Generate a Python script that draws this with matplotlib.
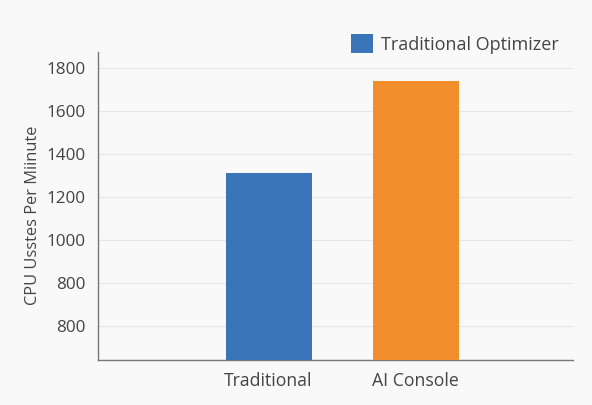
import matplotlib
matplotlib.use("Agg")
import matplotlib.pyplot as plt
from matplotlib.patches import Patch

categories = ["Traditional", "AI Console"]
values = [1312, 1740]
bar_colors = ["#3a74b9", "#f28d2b"]
ytick_values = [600, 800, 1000, 1200, 1400, 1600, 1800]
ytick_labels = ["800", "800", "1000", "1200", "1400", "1600", "1800"]
legend_label = "Traditional Optimizer"
ylabel = "CPU Usstes Per Miinute"

plt.rcParams['font.family'] = ['Open Sans', 'DejaVu Sans']

fig = plt.figure(figsize=(5.92, 4.05), dpi=100, facecolor="#f9f9f9")
ax = fig.add_axes([98/592, 1-360/405, (573-98)/592, (360-52)/405])
ax.set_facecolor("#f9f9f9")

x = list(range(len(categories)))
ax.bar(x, values, width=0.585, color=bar_colors, zorder=3)
ax.set_xlim(-1.16, 2.07)
ax.set_ylim(442, 1874)
ax.set_yticks(ytick_values)
ax.set_yticklabels(ytick_labels)
ax.set_xticks(x)
ax.set_xticklabels(categories)
ax.grid(axis='y', color="#e6e6e6", linewidth=0.8, zorder=0)
for s in ["top", "right"]:
    ax.spines[s].set_visible(False)
for s in ["left", "bottom"]:
    ax.spines[s].set_color("#777777")
    ax.spines[s].set_linewidth(1.0)
ax.tick_params(axis='both', length=0, labelsize=12.3, colors="#444444", pad=9)
ax.tick_params(axis='x', labelsize=12.7, pad=9)
ax.set_ylabel(ylabel, fontsize=11.8, color="#444444", labelpad=3)
ax.yaxis.set_label_coords(-0.12, 0.47)

handles = [Patch(facecolor=bar_colors[0], edgecolor='none')]
fig.legend(handles, [legend_label], loc='center left',
           bbox_to_anchor=(335/592, 1-44/405), frameon=False,
           fontsize=13, handlelength=1.2, handleheight=1.2,
           handletextpad=0.45, labelcolor="#444444")

fig.savefig("out.png", dpi=100, facecolor=fig.get_facecolor())
